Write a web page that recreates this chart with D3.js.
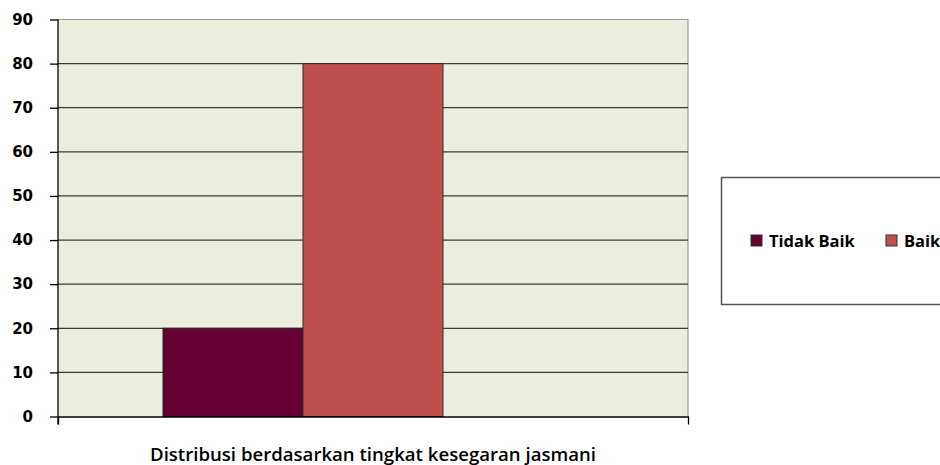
<!DOCTYPE html>
<html>
<head>
<meta charset="utf-8">
<script src="https://cdn.jsdelivr.net/npm/d3@7"></script>
<style>
  body { margin: 0; background: #fff; }
  svg { display: block; }
</style>
</head>
<body>
<div id="chart"></div>
<script>
var W = 940, H = 465;
var margin = {top: 19.5, left: 58, right: 252, bottom: 48.5};

// data
var category = "Distribusi berdasarkan tingkat kesegaran jasmani";
var seriesNames = ["Tidak Baik", "Baik", ""];
var seriesValues = [20, 80, null];
var seriesColors = ["#660033", "#C0504D", "#4F81BD"];
var yTicks = [0, 10, 20, 30, 40, 50, 60, 70, 80, 90];

var svg = d3.select('#chart').append('svg')
  .attr('width', W)
  .attr('height', H);

var pw = W - margin.left - margin.right;
var ph = H - margin.top - margin.bottom;

var y = d3.scaleLinear().domain([0, 90]).range([margin.top + ph, margin.top]);
var x0 = d3.scaleBand().domain([category]).range([margin.left, margin.left + pw]).paddingInner(0).paddingOuter(0.25);
var x1 = d3.scaleBand().domain(seriesNames).range([0, x0.bandwidth()]);

// plot background
svg.append('rect')
  .attr('x', margin.left)
  .attr('y', margin.top)
  .attr('width', pw)
  .attr('height', ph)
  .attr('fill', '#EBEEDE')
  .attr('stroke', 'none');

// top + right border
svg.append('path')
  .attr('d', 'M' + margin.left + ',' + margin.top + 'H' + (margin.left + pw) + 'V' + (margin.top + ph))
  .attr('fill', 'none')
  .attr('stroke', '#9a9a9a')
  .attr('stroke-width', 1.2);

// gridlines
svg.selectAll('line.grid')
  .data(yTicks.filter(function(d) { return d > 0 && d < 90; }))
  .enter()
  .append('line')
  .attr('class', 'grid')
  .attr('x1', margin.left)
  .attr('x2', margin.left + pw)
  .attr('y1', function(d) { return y(d); })
  .attr('y2', function(d) { return y(d); })
  .attr('stroke', '#3c3c3c')
  .attr('stroke-width', 1.3);

// bars
svg.selectAll('rect.bar')
  .data(seriesNames.map(function(n, i) { return {name: n, value: seriesValues[i], color: seriesColors[i]}; })
    .filter(function(d) { return d.value != null; }))
  .enter()
  .append('rect')
  .attr('class', 'bar')
  .attr('x', function(d) { return x0(category) + x1(d.name); })
  .attr('y', function(d) { return y(d.value); })
  .attr('width', x1.bandwidth())
  .attr('height', function(d) { return y(0) - y(d.value); })
  .attr('fill', function(d) { return d.color; })
  .attr('stroke', '#2a2a2a')
  .attr('stroke-width', 1);

// y axis
var yAxis = d3.axisLeft(y).tickValues(yTicks).tickSize(8).tickPadding(17);
var gy = svg.append('g')
  .attr('transform', 'translate(' + margin.left + ',0)')
  .call(yAxis);
gy.select('.domain').attr('stroke', '#000').attr('stroke-width', 1.3).attr('d', 'M0,' + (margin.top) + 'V' + (margin.top + ph + 8));
gy.selectAll('.tick line').attr('stroke', '#000').attr('stroke-width', 1.3);
gy.selectAll('.tick text')
  .attr('fill', '#000')
  .style('font-family', 'DejaVu Sans, Verdana, sans-serif')
  .style('font-weight', 'bold')
  .style('font-size', '15px');

// x axis
var xAxis = d3.axisBottom(x0).tickValues([]).tickSizeOuter(8);
var gx = svg.append('g')
  .attr('transform', 'translate(0,' + y(0) + ')')
  .call(xAxis);
gx.select('.domain').attr('stroke', '#000').attr('stroke-width', 1.3);

svg.append('text')
  .attr('x', margin.left + pw / 2)
  .attr('y', 461)
  .attr('text-anchor', 'middle')
  .style('font-family', 'Open Sans, Lato, sans-serif')
  .style('font-weight', '600')
  .style('font-size', '18.6px')
  .attr('fill', '#000')
  .text(category);

// legend
var legend = svg.append('g');
legend.append('rect')
  .attr('x', 721.5)
  .attr('y', 177.5)
  .attr('width', 240)
  .attr('height', 127)
  .attr('fill', '#fff')
  .attr('stroke', '#555')
  .attr('stroke-width', 1.5);

var legX = [751, 886];
var items = legend.selectAll('g.item')
  .data(seriesNames.slice(0, 2))
  .enter()
  .append('g')
  .attr('class', 'item')
  .attr('transform', function(d, i) { return 'translate(' + legX[i] + ',235)'; });
items.append('rect')
  .attr('width', 11)
  .attr('height', 11)
  .attr('fill', function(d, i) { return seriesColors[i]; })
  .attr('stroke', '#333')
  .attr('stroke-width', 1);
items.append('text')
  .attr('x', 18)
  .attr('y', 11.5)
  .style('font-family', 'Open Sans, Lato, sans-serif')
  .style('font-weight', '700')
  .style('font-size', '16.5px')
  .attr('fill', '#000')
  .text(function(d) { return d; });
</script>
</body>
</html>
